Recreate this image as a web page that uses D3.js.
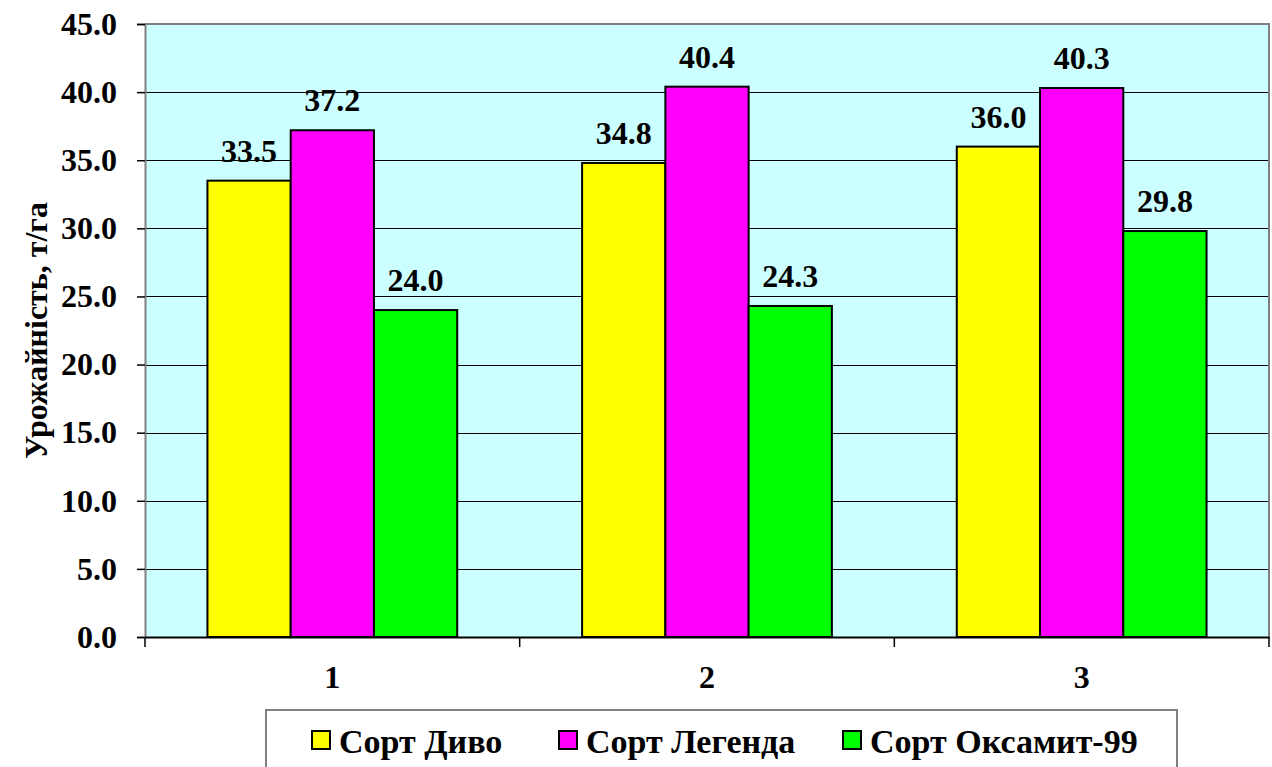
<!DOCTYPE html>
<html>
<head>
<meta charset="utf-8">
<script src="https://cdnjs.cloudflare.com/ajax/libs/d3/7.8.5/d3.min.js"></script>
<style>
  html, body { margin: 0; padding: 0; background: #fff; }
  svg { display: block; }
  text { font-family: "Liberation Serif", "Times New Roman", serif; font-weight: bold; fill: #000; }
</style>
</head>
<body>
<svg id="chart" width="1272" height="767"></svg>
<script>
// Yield by variety for three variants
const categories = ["1", "2", "3"];
const seriesNames = ["Сорт Диво", "Сорт Легенда", "Сорт Оксамит-99"];
const seriesColors = ["#FFFF00", "#FF00FF", "#00FF00"];
const divo = [33.5, 34.8, 36.0];
const legenda = [37.2, 40.4, 40.3];
const oksamyt = [24.0, 24.3, 29.8];
const yTicks = [0, 5, 10, 15, 20, 25, 30, 35, 40, 45];
const yTitle = "Урожайність, т/га";

const series = [divo, legenda, oksamyt];
const FONT = '"Liberation Serif", "Times New Roman", serif';

const svg = d3.select("#chart");
const plot = { left: 145, right: 1269, top: 24, bottom: 637 };

const x = d3.scaleBand().domain(categories).range([plot.left, plot.right]).padding(0);
const groupWidth = x.bandwidth() * 2 / 3;
const xInner = d3.scaleBand().domain(d3.range(series.length)).range([0, groupWidth]).padding(0);
const y = d3.scaleLinear().domain([0, 45]).range([plot.bottom, plot.top]);

// plot background
svg.append("rect")
  .attr("x", plot.left).attr("y", plot.top)
  .attr("width", plot.right - plot.left).attr("height", plot.bottom - plot.top)
  .attr("fill", "#CCFFFF");

// horizontal gridlines
svg.append("g").selectAll("line")
  .data(yTicks.filter(v => v > 0 && v < 45))
  .join("line")
  .attr("x1", plot.left).attr("x2", plot.right)
  .attr("y1", d => Math.round(y(d)) + 0.5).attr("y2", d => Math.round(y(d)) + 0.5)
  .attr("stroke", "#000").attr("stroke-width", 1);

// top and right border
svg.append("path")
  .attr("d", `M${plot.left},${plot.top}H${plot.right}V${plot.bottom}`)
  .attr("fill", "none").attr("stroke", "#808080").attr("stroke-width", 2);

// bars
const groups = svg.append("g").selectAll("g")
  .data(categories)
  .join("g")
  .attr("transform", d => `translate(${x(d) + (x.bandwidth() - groupWidth) / 2},0)`);

groups.selectAll("rect")
  .data((c, i) => series.map((s, k) => ({ k, v: s[i] })))
  .join("rect")
  .attr("x", d => xInner(d.k))
  .attr("y", d => y(d.v))
  .attr("width", xInner.bandwidth())
  .attr("height", d => y(0) - y(d.v))
  .attr("fill", d => seriesColors[d.k])
  .attr("stroke", "#000").attr("stroke-width", 2);

// value labels
groups.selectAll("text")
  .data((c, i) => series.map((s, k) => ({ k, v: s[i] })))
  .join("text")
  .attr("x", d => xInner(d.k) + xInner.bandwidth() / 2)
  .attr("y", d => y(d.v) - 19)
  .attr("text-anchor", "middle")
  .style("font-family", FONT)
  .style("font-size", "32px")
  .text(d => d.v.toFixed(1));

// y axis
const yAxis = svg.append("g")
  .attr("transform", `translate(${plot.left},0)`)
  .call(d3.axisLeft(y).tickValues(yTicks).tickFormat(d3.format(".1f")).tickSize(8).tickPadding(20));
yAxis.select(".domain").attr("stroke", "#808080").attr("stroke-width", 2);
yAxis.selectAll(".tick line").attr("stroke", "#000").attr("stroke-width", 1.5);
yAxis.selectAll(".tick text")
  .style("font-size", "32px")
  .style("font-family", FONT)
  .style("font-weight", "bold")
  .attr("fill", "#000");

// x axis
const xAxis = svg.append("g")
  .attr("transform", `translate(0,${plot.bottom})`)
  .call(d3.axisBottom(x).tickSize(0).tickPadding(28));
xAxis.select(".domain").attr("stroke", "#000").attr("stroke-width", 2);
xAxis.selectAll(".tick text")
  .style("font-size", "32px")
  .style("font-family", FONT)
  .style("font-weight", "bold")
  .attr("fill", "#000");
// category boundary ticks
svg.append("g").selectAll("line")
  .data(categories.map(c => x(c)).concat([plot.right]))
  .join("line")
  .attr("x1", d => d).attr("x2", d => d)
  .attr("y1", plot.bottom).attr("y2", plot.bottom + 10)
  .attr("stroke", "#000").attr("stroke-width", 1.5);

// y axis title
svg.append("text")
  .attr("transform", `translate(47,${(plot.top + plot.bottom) / 2}) rotate(-90)`)
  .attr("text-anchor", "middle")
  .style("font-family", FONT)
  .style("font-size", "32px")
  .text(yTitle);

// legend
const legend = svg.append("g");
legend.append("rect")
  .attr("x", 266).attr("y", 710)
  .attr("width", 1177 - 266).attr("height", 80)
  .attr("fill", "#fff").attr("stroke", "#808080").attr("stroke-width", 2);
const legendX = [312, 559, 843];
const items = legend.selectAll("g.item")
  .data(seriesNames)
  .join("g").attr("class", "item")
  .attr("transform", (d, i) => `translate(${legendX[i]},731)`);
items.append("rect")
  .attr("width", 18).attr("height", 18)
  .attr("fill", (d, i) => seriesColors[i])
  .attr("stroke", "#000").attr("stroke-width", 2);
items.append("text")
  .attr("x", 27).attr("y", 22)
  .style("font-family", FONT)
  .style("font-size", "34px")
  .text(d => d);
</script>
</body>
</html>
